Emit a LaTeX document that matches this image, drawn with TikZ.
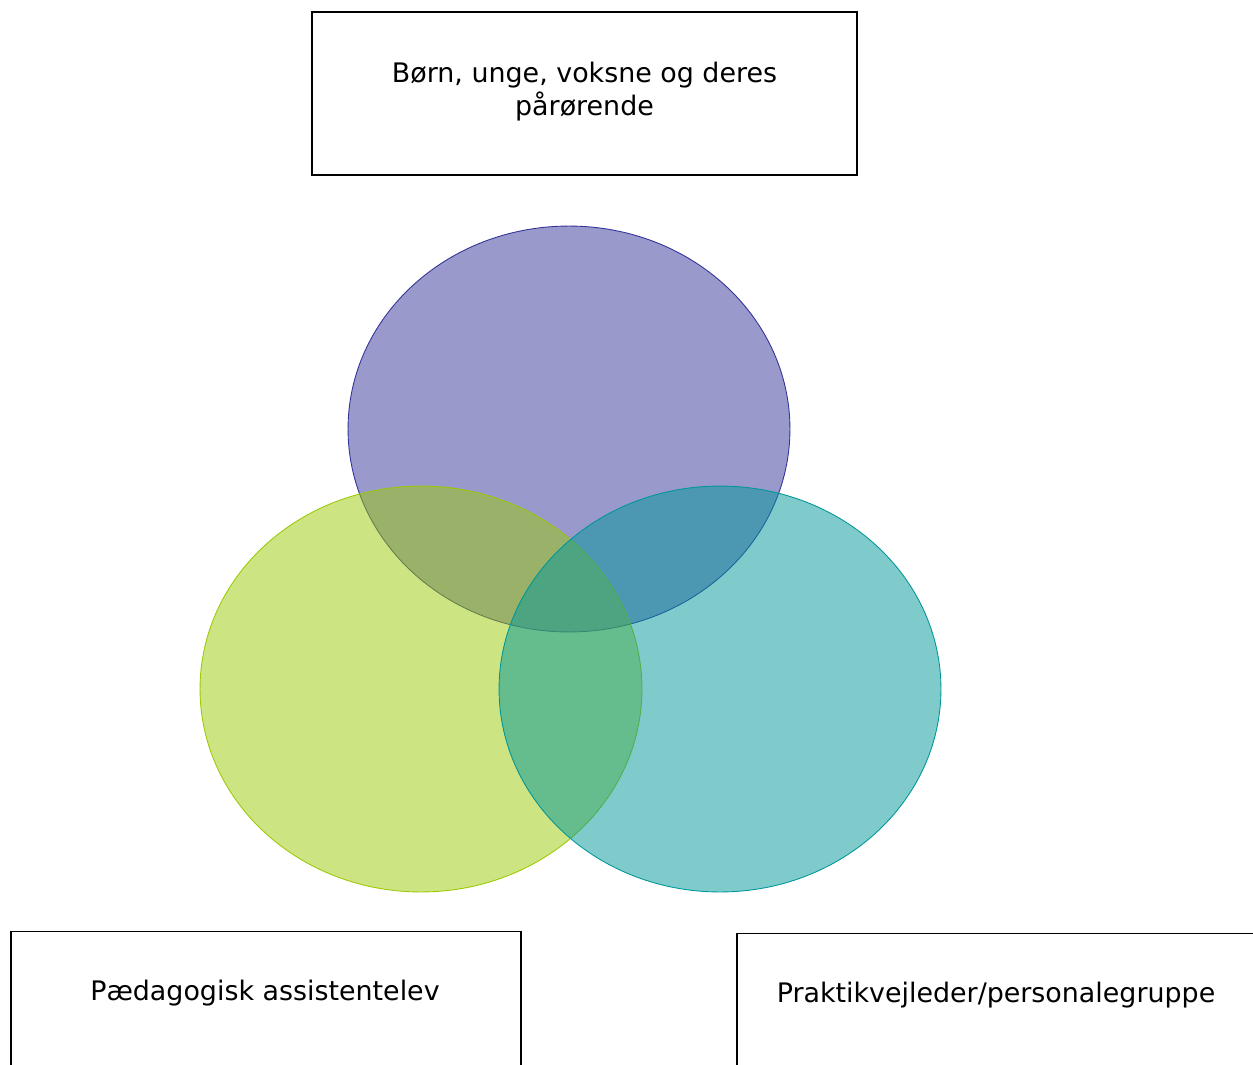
\documentclass[tikz,border=0pt]{standalone}
\usepackage{fontspec}
\setmainfont{DejaVu Sans}
\usetikzlibrary{shapes.geometric}
\begin{document}
\begin{tikzpicture}[x=0.02cm,y=-0.02cm,
  box/.style={draw=black,line width=1.1pt,fill=white,inner sep=0pt},
  txt/.style={font=\fontsize{15.3}{18.7}\selectfont,align=center},
  blob/.style={ellipse,minimum width=8.84cm,minimum height=8.12cm,inner sep=0pt,line width=0.5pt,fill opacity=0.5,draw opacity=1}]
\useasboundingbox (0,0) rectangle (1253,1064);
\clip (0,0) rectangle (1253,1064);
\node[box,minimum width=10.9cm,minimum height=3.26cm] (top) at (584.5,93.5) {};
\node[txt] (toptxt) at (584.5,92) {Børn, unge, voksne og deres\\pårørende};
\node[blob,draw={rgb,255:red,51;green,51;blue,153},fill={rgb,255:red,51;green,51;blue,153}] (purple) at (569,429) {};
\node[blob,draw={rgb,255:red,155;green,201;blue,5},fill={rgb,255:red,155;green,201;blue,5}] (green) at (421,689) {};
\node[blob,draw={rgb,255:red,0;green,151;blue,153},fill={rgb,255:red,0;green,151;blue,153}] (teal) at (720,689) {};
\node[box,minimum width=10.2cm,minimum height=4cm,anchor=north west] (left) at (10,930.5) {};
\node[txt] (lefttxt) at (265,993) {Pædagogisk assistentelev};
\node[box,minimum width=11cm,minimum height=4cm,anchor=north west] (right) at (736,932.5) {};
\node[txt] (righttxt) at (996,995) {Praktikvejleder/personalegruppe};
\end{tikzpicture}
\end{document}
